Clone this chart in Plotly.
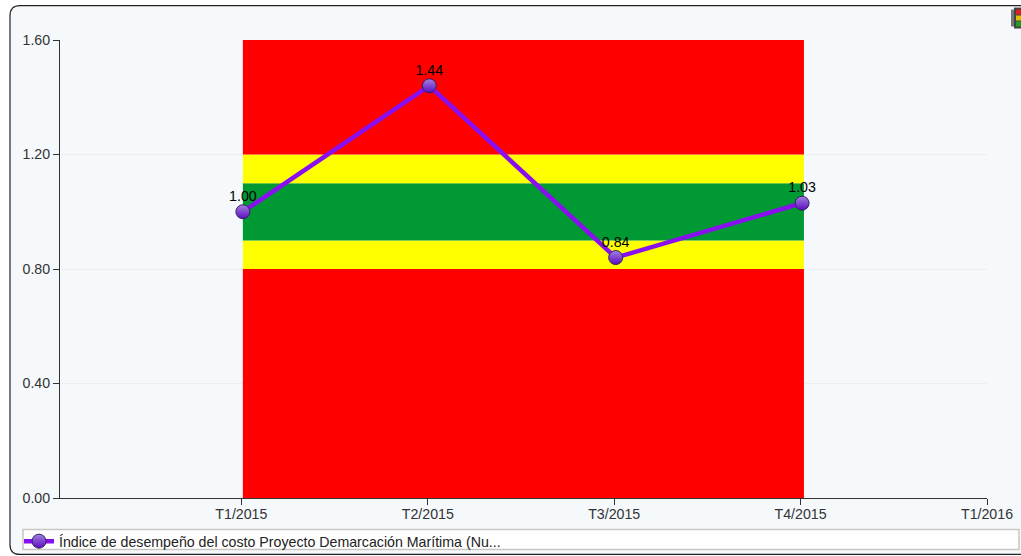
import plotly.graph_objects as go

W, H = 1021, 556
L, R, T, B = 60, 987, 39.5, 498.5

# Data
periods = ["T1/2015", "T2/2015", "T3/2015", "T4/2015", "T1/2016"]
period_idx = [0, 1, 2, 3, 4]
series_name = "Índice de desempeño del costo Proyecto Demarcación Marítima (Nu..."
values = [1.00, 1.44, 0.84, 1.03]
value_labels = ["1.00", "1.44", "0.84", "1.03"]
band_low = [0.0, 0.8, 0.9, 1.1, 1.2]
band_high = [0.8, 0.9, 1.1, 1.2, 1.6]
band_colors = ["#ff0000", "#ffff00", "#009933", "#ffff00", "#ff0000"]
band_start, band_end = 0, 3.01
y_ticks = [0.0, 0.4, 0.8, 1.2, 1.6]

tick_shift = 0.008
x_range = [-0.981, 4 - tick_shift]
FONT = "Liberation Sans, Arial, sans-serif"
FS = 14.2


def px(x):
    return (x - L) / (R - L)


def py(y):
    return (B - y) / (B - T)


fig = go.Figure()

for lo, hi, col in zip(band_low, band_high, band_colors):
    fig.add_trace(go.Bar(
        x=[(band_start + band_end) / 2], y=[hi - lo], base=[lo],
        width=[band_end - band_start],
        marker=dict(color=col, line=dict(width=0)),
        showlegend=False, hoverinfo="skip",
    ))

fig.add_trace(go.Scatter(
    x=period_idx[:4], y=values, mode="lines+markers",
    name=series_name,
    line=dict(color="#8a0ff0", width=4.5),
    marker=dict(size=14, color="#a580e0",
                gradient=dict(type="vertical", color="#5c0cc0"),
                line=dict(color="#2f1f66", width=1)),
))
fig.add_trace(go.Scatter(
    x=period_idx[:4], y=values, mode="markers+text",
    text=value_labels, textposition="top center",
    textfont=dict(family=FONT, size=FS, color="#000000"),
    marker=dict(size=10, opacity=0),
    showlegend=False, hoverinfo="skip",
))

# Card, legend box and status icon
shapes = [
    dict(type="path", xref="paper", yref="paper", layer="below",
         path=f"M {px(1030)} {py(5)} L {px(20)} {py(5)} Q {px(10)} {py(5)} {px(10)} {py(15)} "
              f"L {px(10)} {py(545)} Q {px(10)} {py(555)} {px(20)} {py(555)} L {px(1030)} {py(555)} Z",
         fillcolor="#f5f9fc", line=dict(color="#222222", width=1.2)),
    dict(type="rect", xref="paper", yref="paper", layer="below",
         x0=px(23), x1=px(1019), y0=py(530), y1=py(550),
         fillcolor="#ffffff", line=dict(color="#c9c6c0", width=1.5)),
    dict(type="rect", xref="paper", yref="paper", layer="above",
         x0=px(1011), x1=px(1015), y0=py(9), y1=py(26),
         fillcolor="#777777", line=dict(width=0)),
    dict(type="rect", xref="paper", yref="paper", layer="above",
         x0=px(1014), x1=px(1021), y0=py(7), y1=py(28),
         fillcolor="#444444", line=dict(width=0)),
]
for y0, col in zip([9, 15, 21], ["#e02020", "#e0c000", "#20a020"]):
    shapes.append(dict(type="rect", xref="paper", yref="paper", layer="above",
                       x0=px(1016), x1=px(1021), y0=py(y0), y1=py(y0 + 5),
                       fillcolor=col, line=dict(width=0)))

fig.update_layout(
    width=W, height=H, autosize=False,
    margin=dict(l=L, r=W - R, t=T, b=H - B, pad=0, autoexpand=False),
    paper_bgcolor="#ffffff", plot_bgcolor="rgba(0,0,0,0)",
    barmode="overlay", shapes=shapes,
    font=dict(family=FONT, size=FS, color="#333333"),
    xaxis=dict(range=x_range, tickmode="array",
               tickvals=[i - tick_shift for i in period_idx], ticktext=periods,
               ticks="outside", ticklen=6, tickcolor="#333333", tickwidth=1,
               ticklabelstandoff=-3,
               showgrid=False, zeroline=False, showline=True, linecolor="#333333", linewidth=1),
    yaxis=dict(range=[0, 1.6], tickmode="array", tickvals=y_ticks,
               ticktext=[f"{v:.2f}" for v in y_ticks],
               ticks="outside", ticklen=6, tickcolor="#333333", tickwidth=1,
               showgrid=True, gridcolor="#eeeeee", gridwidth=1, zeroline=False,
               showline=True, linecolor="#333333", linewidth=1),
    legend=dict(x=px(19), y=py(526), xanchor="left", yanchor="top",
                bgcolor="rgba(0,0,0,0)", borderwidth=0, itemwidth=30,
                font=dict(size=FS, color="#222222")),
    showlegend=True,
)

fig.write_html("out.html", config={"displayModeBar": False},
               post_script="document.body.style.margin='0';document.body.style.overflow='hidden';")
